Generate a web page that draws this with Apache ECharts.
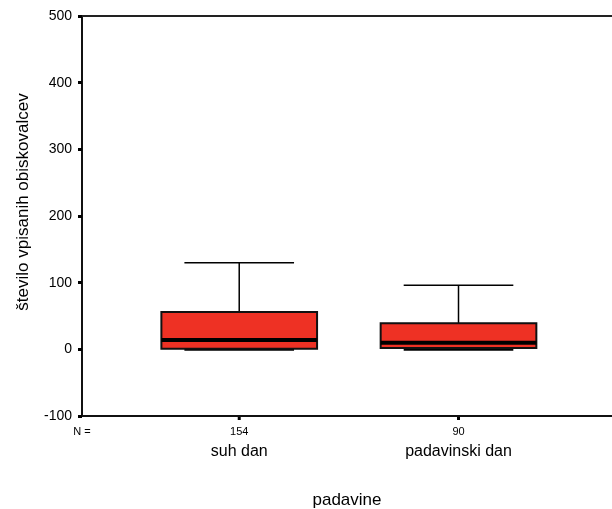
<!DOCTYPE html>
<html>
<head>
<meta charset="utf-8">
<script src="https://cdn.jsdelivr.net/npm/echarts@6/dist/echarts.min.js"></script>
<style>
  html, body { margin: 0; padding: 0; background: #fff; }
  #chart { width: 612px; height: 509px; }
</style>
</head>
<body>
<div id="chart"></div>
<script>
// Box plot data per group
const categories = ['suh dan', 'padavinski dan'];
const counts = [154, 90];
const whiskerLow = [0, 0];
const q1 = [1, 2];
const median = [14, 10];
const q3 = [56, 39];
const whiskerHigh = [130, 96];
const yTicks = { min: -100, max: 500, step: 100 };

const FONT = '"Liberation Sans", Arial, sans-serif';
const BOX_W = 0.71;   // box width in x units
const CAP_W = 0.5;    // whisker cap width in x units
const X_MIN = 0.283, X_MAX = 2.70;

const seriesData = categories.map((c, i) => [i + 1, whiskerLow[i], q1[i], median[i], q3[i], whiskerHigh[i], counts[i]]);

function renderBox(params, api) {
  const x = api.value(0);
  const lo = api.value(1), a = api.value(2), m = api.value(3), b = api.value(4), hi = api.value(5);
  const n = api.value(6);
  const i = params.dataIndex;
  const pLo = api.coord([x, lo]), pA = api.coord([x, a]), pM = api.coord([x, m]);
  const pB = api.coord([x, b]), pHi = api.coord([x, hi]);
  const bw = api.size([BOX_W, 0])[0];
  const cw = api.size([CAP_W, 0])[0];
  const cx = pM[0];
  const base = api.coord([x, yTicks.min]);
  const line = { stroke: '#000', lineWidth: 1.5 };
  const children = [
    { type: 'line', shape: { x1: cx, y1: pHi[1], x2: cx, y2: pB[1] }, style: line },
    { type: 'line', shape: { x1: cx - cw / 2, y1: pHi[1], x2: cx + cw / 2, y2: pHi[1] }, style: line },
    { type: 'line', shape: { x1: cx, y1: pLo[1], x2: cx, y2: pA[1] }, style: line },
    { type: 'line', shape: { x1: cx - cw / 2, y1: pLo[1] + 0.5, x2: cx + cw / 2, y2: pLo[1] + 0.5 }, style: { stroke: '#000', lineWidth: 2 } },
    { type: 'rect', shape: { x: cx - bw / 2, y: pB[1], width: bw, height: pA[1] - pB[1] },
      style: { fill: '#ee3124', stroke: '#111', lineWidth: 2 } },
    { type: 'line', shape: { x1: cx - bw / 2, y1: pM[1], x2: cx + bw / 2, y2: pM[1] }, style: { stroke: '#000', lineWidth: 4 } },
    // category tick below the axis
    { type: 'rect', shape: { x: cx - 1.5, y: base[1] + 1, width: 3, height: 3 }, style: { fill: '#000' } },
    { type: 'text', x: cx, y: base[1] + 16,
      style: { text: String(n), fill: '#000', font: '11px ' + FONT, align: 'center', verticalAlign: 'middle' } },
    { type: 'text', x: cx, y: base[1] + 36,
      style: { text: categories[i], fill: '#000', font: '16px ' + FONT, align: 'center', verticalAlign: 'middle' } }
  ];
  if (i === 0) {
    const left = api.coord([X_MIN, yTicks.min]);
    children.push({ type: 'text', x: left[0], y: base[1] + 16,
      style: { text: 'N =', fill: '#000', font: '11px ' + FONT, align: 'center', verticalAlign: 'middle' } });
  }
  return { type: 'group', children };
}

const chart = echarts.init(document.getElementById('chart'), null, { renderer: 'canvas' });
chart.setOption({
  animation: false,
  backgroundColor: '#fff',
  grid: { left: 82, right: 0, top: 16, bottom: 93, outerBoundsMode: 'none', containLabel: false },
  xAxis: [
    {
      type: 'value', min: X_MIN, max: X_MAX, position: 'bottom',
      name: 'padavine', nameLocation: 'middle', nameGap: 76,
      nameTextStyle: { fontSize: 17, color: '#000', fontFamily: FONT },
      axisLine: { show: true, onZero: false, lineStyle: { color: '#111', width: 2 } },
      axisTick: { show: false }, axisLabel: { show: false }, splitLine: { show: false }
    },
    {
      type: 'value', min: X_MIN, max: X_MAX, position: 'top',
      axisLine: { show: true, onZero: false, lineStyle: { color: '#222', width: 2 } },
      axisTick: { show: false }, axisLabel: { show: false }, splitLine: { show: false }
    }
  ],
  yAxis: {
    type: 'value', min: yTicks.min, max: yTicks.max, interval: yTicks.step,
    name: 'število vpisanih obiskovalcev', nameLocation: 'middle', nameGap: 50, nameRotate: 90,
    nameTextStyle: { fontSize: 17, color: '#000', fontFamily: FONT, padding: [0, 0, 0, 28] },
    axisLine: { show: true, onZero: false, lineStyle: { color: '#111', width: 2 } },
    axisTick: { show: true, inside: false, length: 4, lineStyle: { color: '#000', width: 3 } },
    axisLabel: { fontSize: 14, color: '#000', fontFamily: FONT, margin: 10 },
    splitLine: { show: false }
  },
  series: [{
    type: 'custom',
    clip: false,
    renderItem: renderBox,
    encode: { x: 0, y: [1, 2, 3, 4, 5] },
    data: seriesData
  }]
});
</script>
</body>
</html>
